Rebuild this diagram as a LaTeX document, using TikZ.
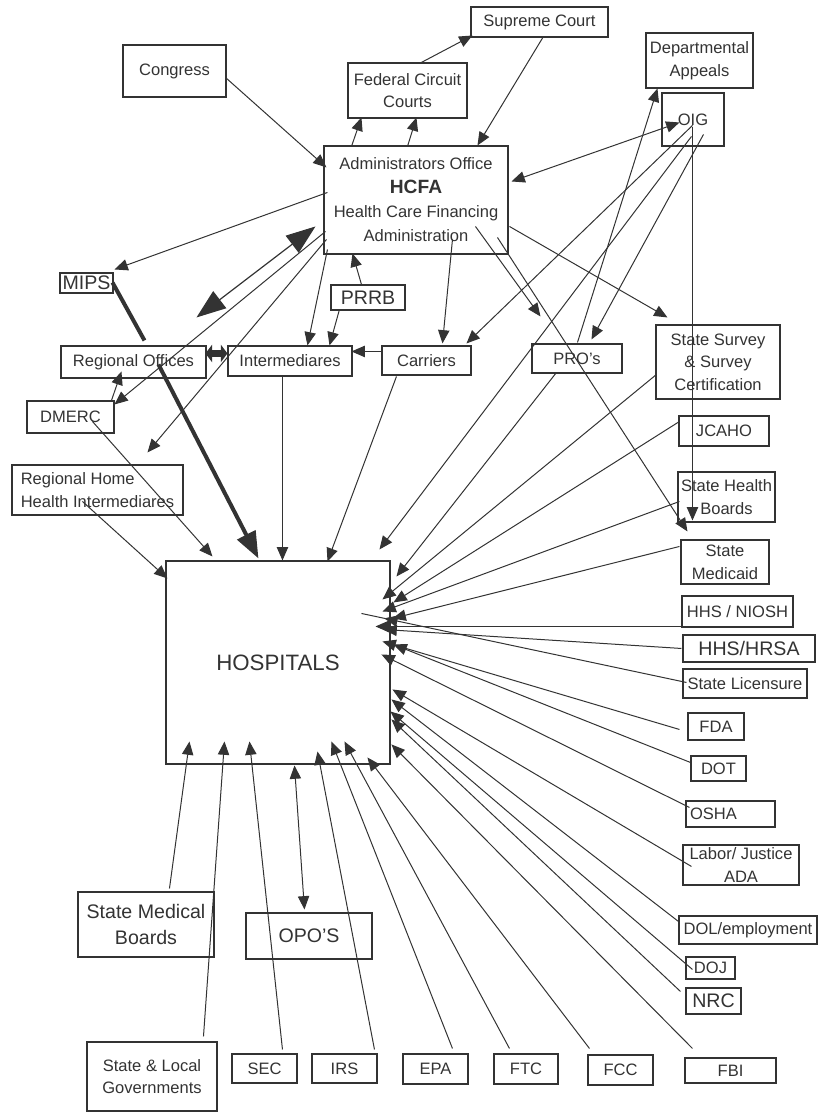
\documentclass[tikz,border=0pt]{standalone}
\usepackage{fontspec}
\setmainfont{Liberation Sans}
\usetikzlibrary{arrows.meta,calc,decorations.markings}
\definecolor{ink}{HTML}{333333}
\tikzset{
  box/.style={draw=ink, line width=0.8pt, inner sep=0pt, align=center, text=ink, font=\fontsize{12.4}{17}\selectfont},
  big/.style={font=\fontsize{14.7}{20}\selectfont},
  con/.style={color=ink, line width=0.75pt, -{Triangle[length=10pt,width=8.5pt]}},
  dcon/.style={color=ink, line width=0.75pt, {Triangle[length=10pt,width=8.5pt]}-{Triangle[length=10pt,width=8.5pt]}},
  plainline/.style={color=ink, line width=0.75pt},
  bigdbl/.style={color=ink, line width=0.9pt, {Triangle[length=22pt,width=16pt]}-{Triangle[length=22pt,width=16pt]}},
  thk/.style={color=ink, line width=3pt},
  thkarr/.style={color=ink, line width=3pt, -{Triangle[length=20pt,width=15pt]}},
  fat/.style={color=ink, line width=5pt, {Triangle[length=5pt,width=13pt]}-{Triangle[length=5pt,width=13pt]}},
  midarrow/.style={postaction={decorate,decoration={markings,mark=at position #1 with {\arrow{Triangle[length=10pt,width=8.5pt]}}}}}
}
\newcommand\bx[7][]{\node[box,minimum width={(#5-#3)*0.75pt},minimum height={(#6-#4)*0.75pt},#1] (#2) at ({(#3+#5)/2},{(#4+#6)/2}) {#7};}
\begin{document}
\begin{tikzpicture}[x=0.75pt,y=-0.75pt]
\useasboundingbox (0,0) rectangle (819,1112);
% ---------- boxes ----------
\bx{cong}{123}{45}{226}{97}{Congress}
\bx{fed}{348}{63}{467}{118}{Federal Circuit\\Courts}
\bx{sup}{471}{7}{608}{37}{Supreme Court}
\bx{dept}{646}{33}{753}{88}{Departmental\\Appeals}
\bx{oig}{662}{93}{724}{146}{OIG}
\bx[font=\fontsize{12.4}{18}\selectfont]{hcfa}{324}{146}{508}{254}{Administrators Office\\{\fontsize{14.4}{18}\selectfont\bfseries HCFA}\\Health Care Financing\\Administration}
\bx[big]{mips}{60}{273}{113}{293}{MIPS}
\bx[big]{prrb}{331}{285}{405}{310}{PRRB}
\bx{reg}{61}{346}{206}{378}{Regional Offices}
\bx{inter}{228}{346}{352}{376}{Intermediares}
\bx{carr}{382}{346}{471}{375}{Carriers}
\bx{pro}{532}{344}{622}{373}{PRO's}
\bx{sss}{656}{325}{780}{399}{State Survey\\\& Survey\\Certification}
\bx{jcaho}{679}{416}{769}{446}{JCAHO}
\bx{shb}{678}{472}{775}{522}{State Health\\Boards}
\bx{smed}{681}{540}{769}{584}{State\\Medicaid}
\bx{dmerc}{27}{401}{114}{433}{DMERC}
\bx[align=left]{rhhi}{12}{465}{183}{515}{Regional Home\\Health Intermediares}
\bx[font=\fontsize{16.7}{20}\selectfont]{hosp}{166}{561}{390}{764}{HOSPITALS}
\bx{niosh}{682}{596}{793}{627}{HHS / NIOSH}
\bx[big]{hrsa}{683}{635}{815}{662}{HHS/HRSA}
\bx{lic}{683}{669}{807}{698}{State Licensure}
\bx{fda}{688}{713}{744}{740}{FDA}
\bx{dot}{691}{756}{746}{781}{DOT}
\bx[align=left,inner xsep=3pt,text width=60.75pt]{osha}{686}{801}{775}{827}{OSHA}
\bx{labor}{683}{845}{799}{885}{Labor/ Justice\\ADA}
\bx{dol}{679}{916}{817}{944}{DOL/employment}
\bx{doj}{686}{957}{735}{979}{DOJ}
\bx[big]{nrc}{686}{988}{741}{1014}{NRC}
\bx[big]{smb}{78}{892}{214}{957}{State Medical\\Boards}
\bx[big]{opo}{246}{913}{372}{959}{OPO'S}
\bx{slg}{87}{1042}{217}{1111}{State \& Local\\Governments}
\bx{sec}{232}{1054}{297}{1083}{SEC}
\bx{irs}{312}{1054}{377}{1083}{IRS}
\bx{epa}{403}{1054}{468}{1084}{EPA}
\bx{ftc}{494}{1054}{558}{1084}{FTC}
\bx{fcc}{588}{1055}{653}{1085}{FCC}
\bx{fbi}{685}{1058}{776}{1083}{FBI}
\coordinate (mcut) at ($(reg.north west)+(84,-5)$);
% ---------- connectors: upper part ----------
\draw[con] ($(cong.north west)+(103,33)$) -- ($(hcfa.north west)+(3,22)$);
\draw[con] ($(hcfa.north west)+(28,1)$) -- ($(fed.north west)+(14,55)$);
\draw[con] ($(hcfa.north west)+(84,1)$) -- ($(fed.north west)+(69,55)$);
\draw[con] ($(fed.north west)+(72,1)$) -- ($(sup.north west)+(2,29)$);
\draw[con] ($(sup.north west)+(73,30)$) -- ($(hcfa.north west)+(154,0)$);
\draw[dcon] ($(oig.north west)+(18,30)$) -- ($(hcfa.north west)+(188,36)$);
\draw[con] ($(oig.north west)+(31,33)$) -- ($(carr.north west)+(85,-2)$);
\draw[con] ($(oig.north west)+(30,44)$) -- ($(hosp.north west)+(214,-11)$);
\draw[con] ($(oig.north west)+(42,42)$) -- ($(pro.north west)+(60,-4)$);
\draw[con] ($(oig.north west)+(31,35)$) -- ($(smed.north west)+(12,-19)$);
\draw[con] ($(pro.north west)+(46,-1)$) -- ($(dept.north west)+(12,56)$);
\draw[con] ($(pro.north west)+(25,29)$) -- ($(hosp.north west)+(231,16)$);
\draw[con] ($(hcfa.north west)+(4,47)$) -- ($(mips.north west)+(55,-3)$);
\draw[bigdbl] ($(hcfa.north west)+(-8,81)$) -- ($(reg.north west)+(136,-28)$);
\draw[con] ($(hcfa.north west)+(2,86)$) -- ($(dmerc.north west)+(88,4)$);
\draw[con] ($(hcfa.north west)+(3,94)$) -- ($(rhhi.north west)+(136,-12)$);
\draw[con] ($(hcfa.north west)+(4,104)$) -- ($(inter.north west)+(80,0)$);
\draw[con] ($(prrb.north west)+(9,25)$) -- ($(inter.north west)+(102,0)$);
\draw[con] ($(prrb.north west)+(31,0)$) -- ($(hcfa.north west)+(29,108)$);
\draw[con] ($(carr.north west)+(0,6)$) -- ($(inter.north west)+(124,6)$);
\draw[con] ($(hcfa.north west)+(129,94)$) -- ($(carr.north west)+(61,-2)$);
\draw[con] ($(hcfa.north west)+(152,81)$) -- ($(pro.north west)+(9,-27)$);
\draw[con] ($(hcfa.north west)+(174,92)$) -- ($(smed.north west)+(7,-8)$);
\draw[con] ($(hcfa.north west)+(186,81)$) -- ($(sss.north west)+(12,-7)$);
\draw[thk] ($(mips.north west)+(53,10)$) -- (mcut);
\draw[thkarr] ($(reg.north west)+(98,19)$) -- ($(hosp.north west)+(93,-2)$);
\draw[fat] ($(reg.north west)+(145,8)$) -- ($(inter.north west)+(0,8)$);
\draw[con] ($(dmerc.north west)+(85,0)$) -- ($(reg.north west)+(61,26)$);
% ---------- connectors into HOSPITALS ----------
\draw[con] ($(dmerc.north west)+(66,21)$) -- ($(hosp.north west)+(47,-4)$);
\draw[con] ($(rhhi.north west)+(71,37)$) -- ($(hosp.north west)+(2,18)$);
\draw[con] ($(inter.north west)+(55,30)$) -- ($(hosp.north west)+(117,0)$);
\draw[con] ($(carr.north west)+(15,31)$) -- ($(hosp.north west)+(162,1)$);
\draw[con] ($(sss.north west)+(1,50)$) -- ($(hosp.north west)+(217,39)$);
\draw[con] ($(jcaho.north west)+(1,6)$) -- ($(hosp.north west)+(228,42)$);
\draw[con] ($(shb.north west)+(2,30)$) -- ($(hosp.north west)+(217,51)$);
\draw[con] ($(smed.north west)+(-1,7)$) -- ($(hosp.north west)+(227,58)$);
\draw[con] ($(niosh.north west)+(0,31)$) -- ($(hosp.north west)+(210,66)$);
\draw[con] ($(hrsa.north west)+(-1,14)$) -- ($(hosp.north west)+(218,69)$);
\draw[plainline,midarrow=0.93] ($(lic.north west)+(4,14)$) -- ($(hosp.north west)+(196,53)$);
\draw[con] ($(fda.north west)+(-8,17)$) -- ($(hosp.north west)+(217,81)$);
\draw[con] ($(dot.north west)+(0,7)$) -- ($(hosp.north west)+(228,84)$);
\draw[con] ($(osha.north west)+(4,7)$) -- ($(hosp.north west)+(216,94)$);
\draw[con] ($(labor.north west)+(9,22)$) -- ($(hosp.north west)+(227,129)$);
\draw[con] ($(dol.north west)+(0,6)$) -- ($(hosp.north west)+(226,139)$);
\draw[con] ($(doj.north west)+(7,13)$) -- ($(hosp.north west)+(225,151)$);
\draw[con] ($(nrc.north west)+(-5,4)$) -- ($(hosp.north west)+(226,159)$);
\draw[con] ($(fbi.north west)+(8,-9)$) -- ($(hosp.north west)+(226,184)$);
\draw[con] ($(fcc.north west)+(2,-6)$) -- ($(hosp.north west)+(202,197)$);
\draw[con] ($(ftc.north west)+(16,-5)$) -- ($(hosp.north west)+(179,181)$);
\draw[con] ($(epa.north west)+(50,-5)$) -- ($(hosp.north west)+(166,181)$);
\draw[con] ($(irs.north west)+(63,-4)$) -- ($(hosp.north west)+(152,191)$);
\draw[dcon] ($(opo.north west)+(59,-3)$) -- ($(hosp.north west)+(129,205)$);
\draw[con] ($(sec.north west)+(51,-4)$) -- ($(hosp.north west)+(84,181)$);
\draw[con] ($(slg.north west)+(117,-5)$) -- ($(hosp.north west)+(59,181)$);
\draw[con] ($(smb.north west)+(92,-3)$) -- ($(hosp.north west)+(24,181)$);
\end{tikzpicture}
\end{document}
